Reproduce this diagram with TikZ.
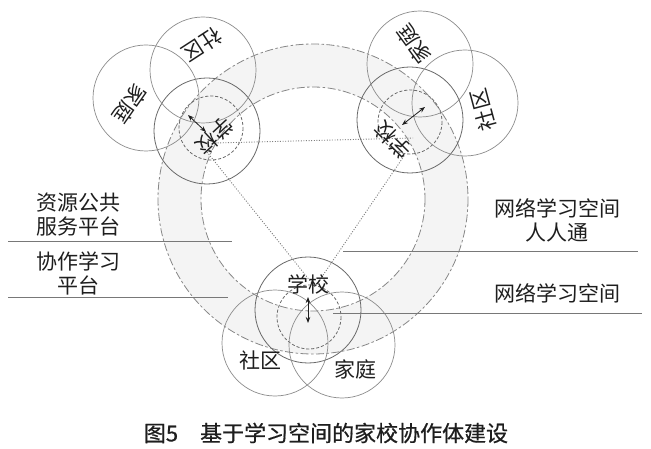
\documentclass[tikz,border=0pt]{standalone}
\usepackage{fontspec}
\setmainfont{Noto Sans CJK SC}
\newfontfamily\capfont[FakeBold=0.6]{Noto Sans CJK SC}
\usetikzlibrary{arrows.meta}
\definecolor{ringfill}{RGB}{244,244,244}
\definecolor{circgray}{RGB}{140,140,140}
\definecolor{maingray}{RGB}{105,105,105}
\definecolor{ringgray}{RGB}{135,135,135}
\definecolor{linegray}{RGB}{120,120,120}
\definecolor{txt}{RGB}{30,30,30}
\tikzset{
  lab/.style={font=\fontsize{21bp}{24bp}\selectfont, text=txt, inner sep=0pt},
  captext/.style={font=\fontsize{22bp}{26bp}\capfont, text=txt, inner sep=0pt},
  ccirc/.style={draw=circgray, line width=0.7bp},
  mcirc/.style={draw=maingray, line width=0.8bp},
  icirc/.style={draw=maingray, dash pattern=on 3bp off 2bp, line width=0.8bp},
  ringline/.style={draw=ringgray, dash pattern=on 8bp off 2.5bp on 2.5bp off 2.5bp, line width=0.8bp},
  triline/.style={draw=gray, dash pattern=on 1bp off 1.6bp, line width=0.9bp},
  dbl/.style={{Stealth[length=6bp,width=4.5bp]}-{Stealth[length=6bp,width=4.5bp]}, line width=0.8bp, draw=txt},
  hline/.style={draw=linegray, line width=0.9bp},
}
\begin{document}
\begin{tikzpicture}[x=1bp,y=-1bp]
\useasboundingbox (0,0) rectangle (651,449);
\fill[white] (0,0) rectangle (651,449);
% ring
\coordinate (rc) at (313,199);
\fill[ringfill, even odd rule] (rc) circle[radius=155] (rc) circle[radius=112];
\draw[ringline] (rc) circle[radius=155];
\draw[ringline] (rc) circle[radius=112];
% triangle
\coordinate (tla) at (215,143);
\coordinate (tra) at (413,138);
\coordinate (tlb) at (207,152);
\coordinate (trb) at (404,156);
\coordinate (bv) at (315,287);
\draw[triline] (tla) -- (tra);
\draw[triline] (tlb) -- (bv);
\draw[triline] (trb) -- (bv);
% bottom cluster
\coordinate (bS) at (308,310);
\coordinate (bI) at (309,317);
\coordinate (bC) at (275,343);
\coordinate (bF) at (342,345);
\draw[mcirc] (bS) circle[radius=53];
\draw[icirc] (bI) circle[radius=32];
\draw[ccirc] (bC) circle[radius=53];
\draw[ccirc] (bF) circle[radius=53];
\node[lab] (bSl) at (308,284) {学校};
\node[lab] (bCl) at (260,360) {社区};
\node[lab] (bFl) at (355,369) {家庭};
\coordinate (ba1) at (308,297);
\coordinate (ba2) at (308,323);
\draw[dbl] (ba1) -- (ba2);
% top-left cluster
\coordinate (lS) at (207,131);
\coordinate (lI) at (211,128);
\coordinate (lC) at (203,70);
\coordinate (lF) at (146,98);
\draw[mcirc] (lS) circle[radius=53];
\draw[icirc] (lI) circle[radius=32];
\draw[ccirc] (lC) circle[radius=53];
\draw[ccirc] (lF) circle[radius=53];
\node[lab, rotate=213] (lCl) at (202,45) {社区};
\node[lab, rotate=235] (lFl) at (130,104) {家庭};
\node[lab, rotate=223] (lSl) at (215,136) {学校};
\coordinate (la1) at (188,115);
\coordinate (la2) at (206,132);
\draw[dbl] (la1) -- (la2);
% top-right cluster
\coordinate (rS) at (410,120);
\coordinate (rI) at (410,122);
\coordinate (rF) at (420,64);
\coordinate (rC) at (465,103);
\draw[mcirc] (rS) circle[radius=53];
\draw[icirc] (rI) circle[radius=32];
\draw[ccirc] (rF) circle[radius=53];
\draw[ccirc] (rC) circle[radius=53];
\node[lab, rotate=126] (rFl) at (414,44) {家庭};
\node[lab, rotate=105] (rCl) at (483,110) {社区};
\node[lab, rotate=135] (rSl) at (393,140) {学校};
\coordinate (ra1) at (402,125);
\coordinate (ra2) at (425,107);
\draw[dbl] (ra1) -- (ra2);
% left labels and lines
\node[lab, align=center] (l1) at (78,215) {资源公共\\服务平台};
\node[lab, align=center] (l2) at (78,273) {协作学习\\平台};
\coordinate (h1a) at (8,241); \coordinate (h1b) at (232,241);
\coordinate (h2a) at (8,297); \coordinate (h2b) at (228,297);
\draw[hline] (h1a) -- (h1b);
\draw[hline] (h2a) -- (h2b);
% right labels and lines
\node[lab, align=center] (r1) at (557,220) {网络学习空间\\人人通};
\node[lab] (r2) at (557,293) {网络学习空间};
\coordinate (h3a) at (343,251); \coordinate (h3b) at (638,251);
\coordinate (h4a) at (333,313); \coordinate (h4b) at (642,313);
\draw[hline] (h3a) -- (h3b);
\draw[hline] (h4a) -- (h4b);
% caption
\node[captext] (capn) at (326,433) {图5\quad 基于学习空间的家校协作体建设};
\end{tikzpicture}
\end{document}
